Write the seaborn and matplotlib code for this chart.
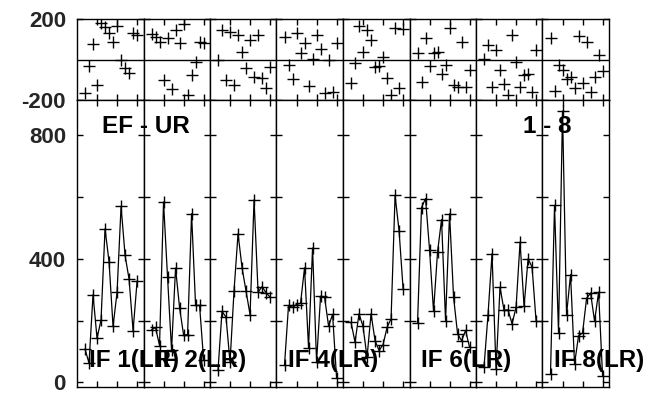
import matplotlib
matplotlib.use("Agg")
import matplotlib.pyplot as plt
import seaborn as sns
import pandas as pd
from matplotlib.ticker import FixedLocator, NullFormatter

sns.set_theme(style="white")
plt.rcParams['font.family'] = ['Liberation Sans', 'DejaVu Sans']
plt.rcParams['font.weight'] = 'bold'

# ---------------- data ----------------
if_names = ["IF 1", "IF 2", "IF 3", "IF 4", "IF 5", "IF 6", "IF 7", "IF 8"]
if_labels = ["IF 1(LR)", "IF 2(LR)", "", "IF 4(LR)", "", "IF 6(LR)", "", "IF 8(LR)"]
times = [2, 3, 4, 5, 6, 7, 8, 9, 10, 11, 12, 13, 14, 15]

amp_if1 = [108, 62, 284, 143, 202, 497, 390, 181, 292, 570, 411, 334, 167, 328]
amp_if2 = [170, 178, 119, 584, 341, 105, 370, 242, 154, 154, 546, 249, 249, 73]
amp_if3 = [40, 230, 211, 65, 297, 481, 371, 295, 219, 591, 292, 310, 290, 276]
amp_if4 = [56, 249, 243, 252, 256, 371, 112, 435, 67, 279, 276, 182, 220, 14]
amp_if5 = [195, 130, 222, 181, 81, 222, 135, 103, 122, 178, 206, 605, 490, 303]
amp_if6 = [191, 566, 595, 430, 230, 422, 527, 200, 546, 276, 157, 135, 168, 113]
amp_if7 = [50, 219, 416, 43, 308, 233, 235, 189, 243, 454, 246, 400, 373, 198]
amp_if8 = [28, 573, 161, 878, 219, 349, 60, 151, 160, 272, 289, 198, 292, 20]

ph_if1 = [-164, -32, 75, -126, 179, 160, 129, 88, 165, -2, -44, -65, 129, 121]
ph_if2 = [124, 113, 88, -101, 105, -147, 146, 80, 175, -175, -77, -11, 88, 80]
ph_if3 = [-2, 146, -101, 138, -126, 121, 39, -44, 96, -85, 121, -93, -142, -36]
ph_if4 = [113, -27, -98, 129, 31, 83, -131, 1, 121, 50, -167, -2, -159, 80]
ph_if5 = [-115, -19, 165, 39, 146, 96, -36, -30, 14, -93, -175, 154, -142, 149]
ph_if6 = [34, -110, 105, -32, 31, 39, -72, -27, 154, -126, -134, 88, -138, -52]
ph_if7 = [1, 72, -138, 47, -52, -121, -175, 121, -11, -134, -77, -72, -159, 47]
ph_if8 = [105, -154, -27, -52, -98, -88, -142, 116, -115, 88, -159, -88, 22, -55]

amps = [amp_if1, amp_if2, amp_if3, amp_if4, amp_if5, amp_if6, amp_if7, amp_if8]
phases = [ph_if1, ph_if2, ph_if3, ph_if4, ph_if5, ph_if6, ph_if7, ph_if8]

rows = []
for name, a, p in zip(if_names, amps, phases):
    for t, av, pv in zip(times, a, p):
        rows.append({"IF": name, "time": t, "amp": av, "phase": pv})
df = pd.DataFrame(rows)

# ---------------- layout ----------------
W, H = 648, 396
X0, X1 = 77, 609
fig = plt.figure(figsize=(W / 100, H / 100), dpi=100)
gs = fig.add_gridspec(2, 8, left=X0 / W, right=X1 / W, top=1 - 19 / H,
                      bottom=1 - 387 / H, height_ratios=[81, 287],
                      wspace=0, hspace=0)
colw = (X1 - X0) / 8

tick_font = dict(size=16, weight='bold')
for i, name in enumerate(if_names):
    sub = df[df["IF"] == name]
    axt = fig.add_subplot(gs[0, i])
    axb = fig.add_subplot(gs[1, i])

    sns.scatterplot(data=sub, x="time", y="phase", ax=axt, color="black",
                    marker="+", s=65, linewidth=1.0, legend=False)
    axt.axhline(0, color="black", lw=1.0)
    sns.lineplot(data=sub, x="time", y="amp", ax=axb, color="black",
                 estimator=None, sort=False, lw=0.9, marker="+",
                 markersize=8.5, markeredgewidth=1.0, markeredgecolor="black",
                 legend=False)

    for ax in (axt, axb):
        ax.set_xlim(0, 16.6)
        ax.set_xticks([5, 10, 15])
        ax.set_xticklabels([])
        ax.set_xlabel("")
        ax.set_ylabel("")
        ax.tick_params(axis="both", which="both", direction="in",
                       top=True, bottom=True, left=True, right=True,
                       length=4, width=1, color="black", pad=8)
        for sp in ax.spines.values():
            sp.set_color("black")
            sp.set_linewidth(1.0)
        ax.set_facecolor("white")
        ax.grid(False)

    axt.set_ylim(-200, 200)
    axt.set_yticks([-200, 200])
    axb.set_ylim(-15, 914)
    axb.set_yticks([0, 400, 800])
    axb.yaxis.set_minor_locator(FixedLocator([200, 600]))
    axb.yaxis.set_minor_formatter(NullFormatter())

    if i == 0:
        axt.set_yticklabels(["-200", "200"], fontdict=tick_font)
        axb.set_yticklabels(["0", "400", "800"], fontdict=tick_font)
    else:
        axt.set_yticklabels([])
        axb.set_yticklabels([])

    if if_labels[i]:
        fig.text((X0 + i * colw + 12) / W, 1 - 367 / H, if_labels[i],
                 ha="left", va="baseline", fontsize=17.5,
                 fontweight="bold", color="black", zorder=10)

fig.text(102 / W, 1 - 133 / H, "EF - UR", ha="left", va="baseline",
         fontsize=17.5, fontweight="bold", color="black", zorder=10)
fig.text(523 / W, 1 - 133 / H, "1 - 8", ha="left", va="baseline",
         fontsize=17.5, fontweight="bold", color="black", zorder=10)

fig.savefig("out.png", dpi=100, facecolor="white")
